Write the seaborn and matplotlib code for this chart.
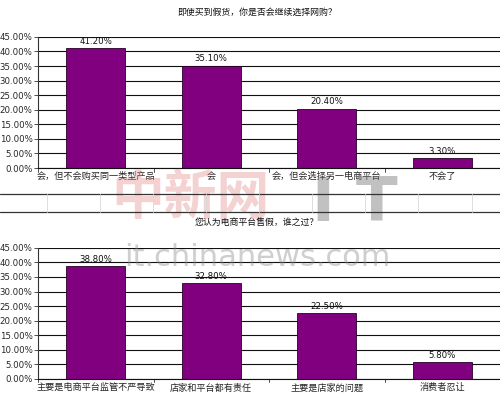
import matplotlib
matplotlib.use("Agg")
import matplotlib.pyplot as plt
import seaborn as sns
import pandas as pd
from matplotlib.lines import Line2D

sns.set_theme(style="white")
plt.rcParams['font.family'] = ['Noto Sans CJK SC', 'DejaVu Sans']

title1 = "即使买到假货，你是否会继续选择网购？"
cats1 = ["会，但不会购买同一类型产品", "会", "会，但会选择另一电商平台", "不会了"]
vals1 = [41.2, 35.1, 20.4, 3.3]

title2 = "您认为电商平台售假，谁之过？"
cats2 = ["主要是电商平台监管不严导致", "店家和平台都有责任", "主要是店家的问题", "消费者忍让"]
vals2 = [38.8, 32.8, 22.5, 5.8]

yticks = [0, 5, 10, 15, 20, 25, 30, 35, 40, 45]

fig = plt.figure(figsize=(5.0, 4.01), dpi=100)
fig.patch.set_facecolor("white")

# watermark (behind everything)
fig.text(0.38, 0.505, "中新网", ha="center", va="center", fontsize=38,
         color="#e08080", alpha=0.35, fontweight="bold", zorder=0)
fig.text(0.71, 0.49, "I T", ha="center", va="center", fontsize=44,
         color="#777777", alpha=0.45, fontweight="bold", family=['DejaVu Sans'], zorder=0)
fig.text(0.515, 0.358, "it.chinanews.com", ha="center", va="center", fontsize=22,
         color="#888888", alpha=0.4, family=['DejaVu Sans'], zorder=0)

def draw(ax, cats, vals):
    df = pd.DataFrame({"cat": cats, "val": vals})
    sns.barplot(data=df, x="cat", y="val", ax=ax, color="#800080",
                edgecolor="#2a002a", linewidth=0.6, width=0.51, saturation=1)
    ax.set_xlim(-0.5, 3.5)
    ax.set_ylim(0, 45)
    ax.set_yticks(yticks)
    ax.set_yticklabels([f"{t:.2f}%" for t in yticks], fontsize=6.2,
                       family=['DejaVu Sans'])
    for t in yticks:
        ax.axhline(t, color="#111111", lw=0.8, zorder=0)
    ax.set_xlabel("")
    ax.set_ylabel("")
    ax.set_xticks(range(4))
    ax.set_xticklabels(cats, fontsize=6.6)
    ax.tick_params(axis='x', length=0, pad=3)
    ax.tick_params(axis='y', length=3, width=0.6, color="#333333", pad=1, left=True)
    for b in [-0.5, 0.5, 1.5, 2.5, 3.5]:
        ax.plot([b, b], [0, -1.2], color="#333333", lw=0.6, clip_on=False)
    for s in ["top", "right"]:
        ax.spines[s].set_visible(False)
    ax.spines["left"].set_color("#333333")
    ax.spines["left"].set_linewidth(0.8)
    ax.spines["bottom"].set_color("#111111")
    ax.spines["bottom"].set_linewidth(0.8)
    for i, v in enumerate(vals):
        ax.text(i, v + 0.8, f"{v:.2f}%", ha="center", va="bottom", fontsize=6.2,
                family=['DejaVu Sans'], color="#111111")
    ax.patch.set_alpha(0)

ax1 = fig.add_axes([0.076, 0.581, 0.924, 0.327])
draw(ax1, cats1, vals1)
fig.text(0.514, 0.970, title1, ha="center", va="center", fontsize=6.4, color="#111111")

ax2 = fig.add_axes([0.076, 0.055, 0.924, 0.327])
draw(ax2, cats2, vals2)
fig.text(0.514, 0.444, title2, ha="center", va="center", fontsize=6.4, color="#111111")

# separator strip (spreadsheet rows)
for yy in [194, 212]:
    fig.add_artist(Line2D([0, 1], [1 - yy / 401, 1 - yy / 401], color="#333333", lw=0.9))
for xx in [47, 100, 153, 206, 259, 312, 365, 418, 472]:
    fig.add_artist(Line2D([xx / 500, xx / 500], [1 - 212 / 401, 1 - 194 / 401],
                          color="#d8d8d8", lw=0.6))

fig.savefig("out.png", dpi=100, facecolor="white")
